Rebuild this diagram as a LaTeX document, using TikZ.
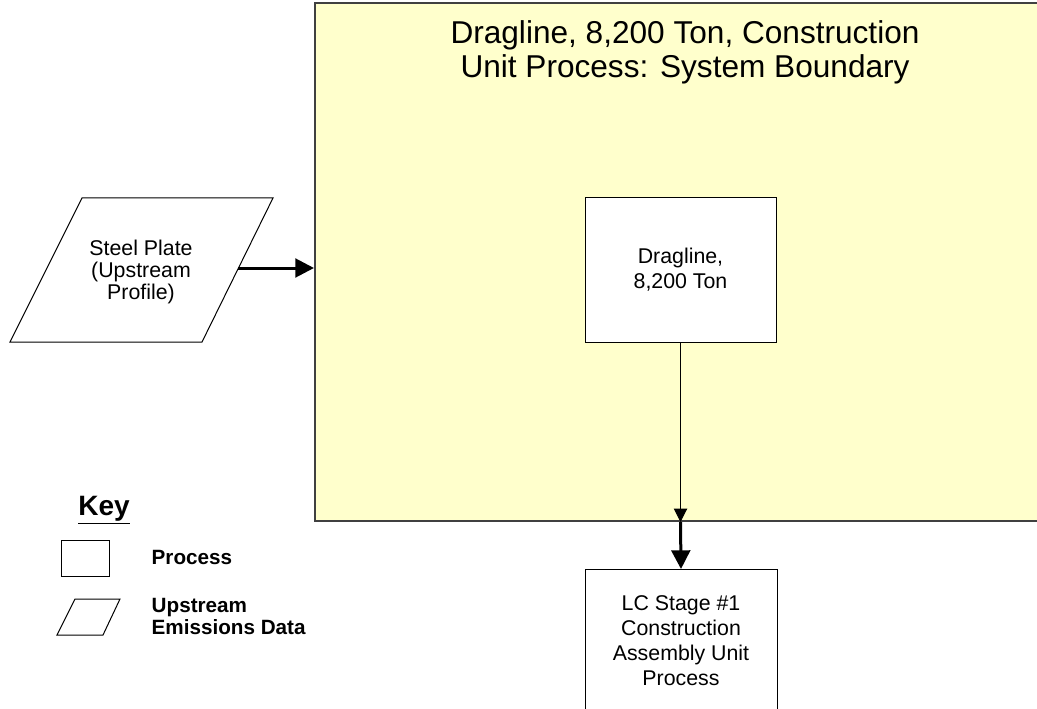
\documentclass[tikz,border=0pt]{standalone}
\usepackage{fontspec}
\setmainfont{Liberation Sans}
\usepackage{xcolor}
\usetikzlibrary{arrows.meta}

\definecolor{boundfill}{HTML}{FFFFCC}
\definecolor{boundline}{HTML}{404040}

\tikzset{
  procbox/.style={draw=black, fill=white, line width=0.75pt, align=center,
    minimum width=143.25pt, minimum height=108pt, inner sep=0pt,
    font=\fontsize{16}{18.75}\selectfont},
  thinflow/.style={line width=0.75pt, -{Triangle[length=10pt, width=10pt]}},
  thickflow/.style={line width=2.25pt, -{Triangle[length=14pt, width=14pt]}},
  keytext/.style={anchor=west, align=left, font=\bfseries\fontsize{15.5}{16.5}\selectfont}
}

\begin{document}
\begin{tikzpicture}[x=0.75pt, y=-0.75pt]
    \useasboundingbox (0,0) rectangle (1037,709);

    % System boundary
    \node[draw=boundline, fill=boundfill, line width=1.5pt,
      minimum width=543.75pt, minimum height=388.5pt] (bound) at (677.5,262) {};
    \node[align=center, font=\fontsize{23.7}{25.5}\selectfont] (title) at (685,52)
      {Dragline, 8,200 Ton, Construction\\Unit Process: System Boundary};

    % Processes
    \node[procbox] (drag) at (680.5,270) {Dragline,\\8,200 Ton};
    \node[procbox, minimum width=144pt, minimum height=106.5pt] (lc) at (681,640.5)
      {LC Stage \#1\\Construction\\Assembly Unit\\Process};

    % Upstream data
    \draw[line width=0.75pt] (82,198) -- (273,198) -- (202,342) -- (10,342) -- cycle;
    \node[align=center, font=\fontsize{16}{16.3}\selectfont] (steel) at (141,272)
      {Steel Plate\\(Upstream\\Profile)};
    \coordinate (steelout) at (238,268);

    % Flows
    \draw[thickflow] (steelout) -- (bound.west |- steelout);
    \draw[thinflow] (drag.south) -- (drag.south |- bound.south);
    \draw[thickflow] (drag.south |- bound.south) -- (lc.north);

    % Key
    \node[font=\bfseries\fontsize{21}{22}\selectfont] (key) at (104,510) {\underline{Key}};
    \node[draw=black, line width=0.75pt, minimum width=36pt, minimum height=27pt,
      inner sep=0pt] (keyproc) at (85,558) {};
    \node[keytext] (keyproclbl) at (147,557) {Process};
    \draw[line width=0.75pt] (75,599) -- (120,599) -- (103,635) -- (57,635) -- cycle;
    \node[keytext] (keyuplbl) at (147,616) {Upstream\\Emissions Data};
\end{tikzpicture}
\end{document}
